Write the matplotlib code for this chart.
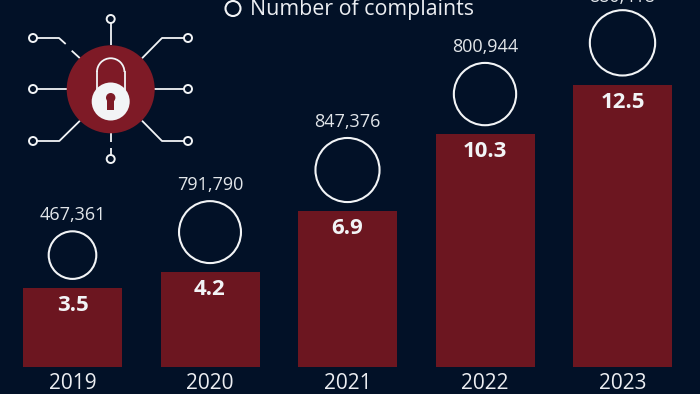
import matplotlib
matplotlib.use("Agg")
import matplotlib.pyplot as plt
from matplotlib.patches import Circle, Rectangle, Arc

years = ["2019", "2020", "2021", "2022", "2023"]
losses = [3.5, 4.2, 6.9, 10.3, 12.5]
complaints = [467361, 791790, 847376, 800944, 880418]
legend_label = "Number of complaints"

BG = "#021127"
BAR = "#6c1620"
ICON_RED = "#7e1a26"
WHITE = "#f2f4f6"
W, H = 700, 394

plt.rcParams["font.family"] = ["Open Sans", "DejaVu Sans"]

fig = plt.figure(figsize=(7, 3.94), dpi=100, facecolor=BG)

# main axes: bottom edge sits on the bar baseline, runs to the top of the figure
ax = fig.add_axes([0, (H - 367) / H, 1, 367 / H], facecolor="none")
px_per_unit = 22.6
ax.set_ylim(0, 367 / px_per_unit)
ax.set_xlim(-72.5 / 137.5, (W - 72.5) / 137.5)

xs = list(range(len(years)))
ax.bar(xs, losses, width=0.72, color=BAR, zorder=2)

for x, v in zip(xs, losses):
    ax.annotate(f"{v}", (x, v), xytext=(0, -7), textcoords="offset pixels", ha="center", va="top",
                color=WHITE, fontsize=16, fontweight="bold", zorder=3, annotation_clip=False)

# bubbles, area goes with the number of complaints
r_ref = 23.8 / complaints[0] ** 0.5
for x, v, c, year in zip(xs, losses, complaints, years):
    r = r_ref * c ** 0.5
    yc = v + (r + 9) / px_per_unit
    size = (2 * r * 72 / 100) ** 2
    ax.scatter([x], [yc], s=size, facecolor="none", edgecolor=WHITE, linewidth=1.5, zorder=3, clip_on=False)
    # label gap differs a little from year to year in the original
    gap = 8 if year == "2023" else 11
    ax.annotate(f"{c:,}", (x, yc), xytext=(0, r + gap), textcoords="offset pixels", ha="center", va="baseline",
                color="#e2e6ea", fontsize=13, annotation_clip=False)

ax.set_xticks(xs)
ax.set_xticklabels(years, fontsize=15, color="#eceef2")
ax.tick_params(axis="x", length=0, pad=4)
ax.set_yticks([])
for s in ax.spines.values():
    s.set_visible(False)

# overlay in pixel coordinates for the legend and the lock icon
ov = fig.add_axes([0, 0, 1, 1], facecolor="none")
ov.set_xlim(0, W)
ov.set_ylim(H, 0)
ov.axis("off")

ov.add_patch(Circle((233, 8.5), 7.5, fill=False, ec=WHITE, lw=1.5))
ov.text(250, 9.5, legend_label, color="#eceef2", fontsize=15.4, va="center", ha="left")

cx, cy = 110.7, 89.3
ov.add_patch(Circle((cx, cy), 44, fc=ICON_RED, ec="none", zorder=2))

# circuit lines around the lock
circuits = [
    [(80, 58.3), (71.7, 50.7)],
    [(65.7, 44), (59, 38), (33, 38)],
    [(142, 58.3), (162, 38), (188, 38)],
    [(67, 89), (33, 89)],
    [(154, 89), (188, 89)],
    [(80, 120.7), (59.3, 141), (33, 141)],
    [(142, 120.7), (162, 141), (188, 141)],
    [(110.7, 45), (110.7, 19)],
    [(110.7, 133), (110.7, 142)],
    [(110.7, 148), (110.7, 159)],
]
for pts in circuits:
    ov.plot([p[0] for p in pts], [p[1] for p in pts], color=WHITE, lw=1.3, zorder=1, solid_capstyle="butt")

for px, py in [(33, 38), (33, 89), (33, 141), (188, 38), (188, 89), (188, 141), (110.7, 19), (110.7, 159)]:
    ov.add_patch(Circle((px, py), 4, fc=BG, ec=WHITE, lw=1.4, zorder=3))

# padlock
ov.plot([97, 97], [96, 72], color=WHITE, lw=1.3, zorder=3)
ov.plot([124.5, 124.5], [96, 72], color=WHITE, lw=1.3, zorder=3)
ov.add_patch(Arc((110.7, 72), 27.5, 27.5, theta1=180, theta2=360, ec=WHITE, lw=1.3, zorder=3))
ov.add_patch(Circle((110.7, 101.5), 19, fc=WHITE, ec="none", zorder=4))
ov.add_patch(Circle((110.7, 97.7), 4.7, fc=ICON_RED, ec="none", zorder=5))
ov.add_patch(Rectangle((107.2, 98), 7, 12, fc=ICON_RED, ec="none", zorder=5))

fig.savefig("out.png", dpi=100, facecolor=BG)
